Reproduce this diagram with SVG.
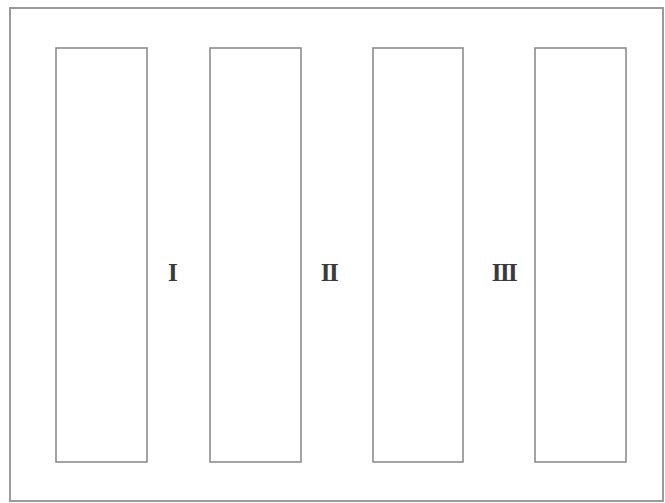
<svg xmlns="http://www.w3.org/2000/svg" width="665" height="503" viewBox="0 0 665 503">
<style>
.frame{fill:none;stroke:#9a9a9a;stroke-width:2}
.panel{fill:#ffffff;stroke:#8c8c8c;stroke-width:1.6}
.lbl{font-family:"Liberation Serif",serif;font-size:25px;font-weight:bold;fill:#3a3a3a;text-anchor:middle;letter-spacing:-1.5px}
</style>
<rect width="665" height="503" fill="#ffffff"/>
<rect class="frame" x="10" y="8" width="653" height="493"/>
<g id="panel1"><rect class="panel" x="56" y="48" width="91" height="414"/></g>
<g id="panel2"><rect class="panel" x="210" y="48" width="91" height="414"/></g>
<g id="panel3"><rect class="panel" x="373" y="48" width="90" height="414"/></g>
<g id="panel4"><rect class="panel" x="535" y="48" width="91" height="414"/></g>
<g id="labels">
<text class="lbl" x="172" y="281">I</text>
<text class="lbl" x="329" y="281">II</text>
<text class="lbl" x="504" y="281">III</text>
</g>
</svg>
